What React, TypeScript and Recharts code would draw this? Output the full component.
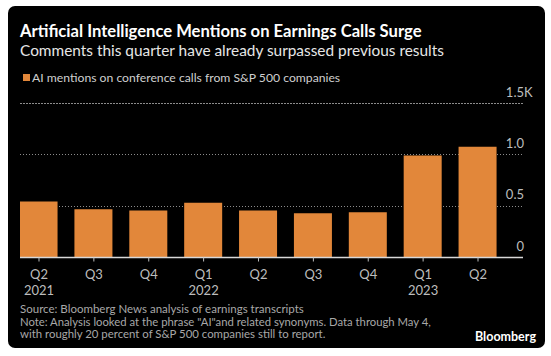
import React from 'react';
import { BarChart, Bar, XAxis, YAxis, CartesianGrid, ReferenceLine } from 'recharts';

const quarters = ['Q2', 'Q3', 'Q4', 'Q1', 'Q2', 'Q3', 'Q4', 'Q1', 'Q2'];
const years = ['2021', '', '', '2022', '', '', '', '2023', ''];
const mentionsK = [0.545, 0.47, 0.458, 0.533, 0.458, 0.431, 0.441, 0.993, 1.078];
const yTicks = [0, 0.5, 1.0, 1.5];
const yTickLabels = ['0', '0.5', '1.0', '1.5'];

const data = quarters.map((q, i) => ({ i, q, year: years[i], value: mentionsK[i] }));

const FONT = 'Lato, "Noto Sans", sans-serif';
const ORANGE = '#E2873A';
const GRID = '#8c8c8c';
const W = 551;
const H = 356;
const PLOT_LEFT = 20;
const PLOT_RIGHT = 523;
const PLOT_TOP = 103.5;
const PLOT_BOTTOM = 257.5;
const X_AXIS_H = 40;
const Y_AXIS_W = 20;

const XTick = (props: any) => {
  const { x, y, payload } = props;
  const d = data[payload.value];
  if (!d) return null;
  return (
    <g>
      <text x={x} y={y + 15} textAnchor="middle" fill="#bdbdbd" fontSize={13} fontFamily={FONT}>
        {d.q}
      </text>
      {d.year ? (
        <text x={x} y={y + 31} textAnchor="middle" fill="#bdbdbd" fontSize={13} fontFamily={FONT}>
          {d.year}
        </text>
      ) : null}
    </g>
  );
};

const YTick = (props: any) => {
  const { y, payload } = props;
  const idx = yTicks.indexOf(payload.value);
  const label = idx >= 0 ? yTickLabels[idx] : String(payload.value);
  const xr = PLOT_RIGHT + 1;
  return (
    <g>
      <text x={xr} y={y - 7} textAnchor="end" fill="#bdbdbd" fontSize={13} fontFamily={FONT}>
        {label}
      </text>
      {idx === yTicks.length - 1 ? (
        <text x={xr} y={y - 7} textAnchor="start" fill="#bdbdbd" fontSize={13} fontFamily={FONT}>
          K
        </text>
      ) : null}
    </g>
  );
};

export default function App() {
  return (
    <div style={{ position: 'absolute', left: 0, top: 0, width: W, height: H, background: '#fff', overflow: 'hidden' }}>
      <div
        style={{
          position: 'absolute',
          left: 8,
          top: 6,
          width: 537,
          height: 342,
          background: '#000',
          borderRadius: 7,
        }}
      />
      <div style={{ position: 'absolute', left: 0, top: 0 }}>
        <BarChart
          width={W}
          height={H}
          data={data}
          margin={{ top: PLOT_TOP, right: W - PLOT_RIGHT - Y_AXIS_W, left: PLOT_LEFT, bottom: H - PLOT_BOTTOM - X_AXIS_H }}
        >
          <CartesianGrid
            vertical={false}
            horizontal
            stroke={GRID}
            strokeDasharray="1 2"
            horizontalValues={yTicks}
            shapeRendering="crispEdges"
          />
          <ReferenceLine y={1.5} stroke={GRID} strokeDasharray="1 2" ifOverflow="visible" shapeRendering="crispEdges" />
          <XAxis
            type="number"
            dataKey="i"
            domain={[-0.346, 8.82]}
            ticks={[0, 1, 2, 3, 4, 5, 6, 7, 8]}
            allowDataOverflow
            axisLine={{ stroke: '#d8d8d8', strokeWidth: 1.5 }}
            tickLine={{ stroke: '#bdbdbd' }}
            tickSize={4}
            tick={<XTick />}
            height={X_AXIS_H}
            interval={0}
          />
          <YAxis
            orientation="right"
            width={Y_AXIS_W}
            type="number"
            domain={[0, 1.5]}
            ticks={yTicks}
            interval={0}
            allowDataOverflow
            axisLine={false}
            tickLine={false}
            tick={<YTick />}
          />
          <Bar dataKey="value" fill={ORANGE} barSize={38} isAnimationActive={false} />
        </BarChart>
      </div>
      <svg width={W} height={H} style={{ position: 'absolute', left: 0, top: 0, pointerEvents: 'none' }}>
        <text x={20} y={37} fill="#ffffff" fontSize={16.6} fontWeight={700} fontFamily={FONT}>
          Artificial Intelligence Mentions on Earnings Calls Surge
        </text>
        <text x={20} y={56} fill="#e6e6e6" fontSize={15.4} fontFamily={FONT}>
          Comments this quarter have already surpassed previous results
        </text>
        <rect x={23} y={74} width={7} height={7} fill={ORANGE} />
        <text x={32} y={82} fill="#cfcfcf" fontSize={12.2} fontFamily={FONT}>
          AI mentions on conference calls from S&amp;P 500 companies
        </text>
        <text x={20} y={313} fill="#a8a8a8" fontSize={11.5} fontFamily={FONT}>
          Source: Bloomberg News analysis of earnings transcripts
        </text>
        <text x={20} y={325.5} fill="#a8a8a8" fontSize={11.3} fontFamily={FONT}>
          Note: Analysis looked at the phrase "AI"and related synonyms. Data through May 4,
        </text>
        <text x={20} y={338} fill="#a8a8a8" fontSize={11.4} fontFamily={FONT}>
          with roughly 20 percent of S&amp;P 500 companies still to report.
        </text>
        <text x={536} y={341} textAnchor="end" fill="#ffffff" fontSize={12.5} fontWeight={700} fontFamily={FONT}>
          Bloomberg
        </text>
      </svg>
    </div>
  );
}
